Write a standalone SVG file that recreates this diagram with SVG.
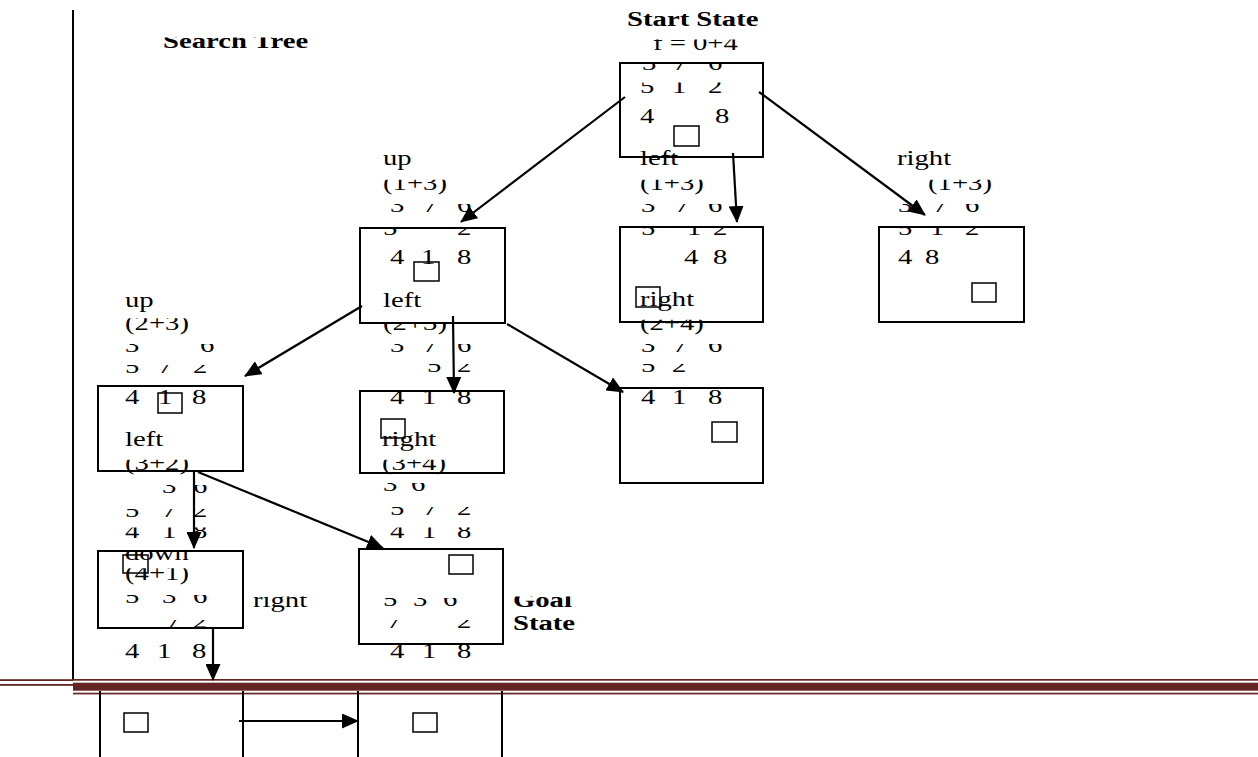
<svg xmlns="http://www.w3.org/2000/svg" width="1258" height="757" viewBox="0 0 1258 757">
<style>
text{font-family:"Liberation Serif","Times New Roman",serif;font-size:20.5px;fill:#000}
.b{font-weight:bold}
.box{fill:none;stroke:#000;stroke-width:2}
.sq{fill:none;stroke:#000;stroke-width:1.5}
.arr{stroke:#000;stroke-width:2.2;fill:none;marker-end:url(#ah)}
.ca{clip-path:url(#cA)}
.cb{clip-path:url(#cB)}
.cc{clip-path:url(#cC)}
.bar{fill:#632523}
.vl{stroke:#000;stroke-width:2}
</style>
<defs>
<clipPath id="cA" clipPathUnits="objectBoundingBox"><rect x="-0.1" y="0.45" width="1.2" height="1"/></clipPath>
<clipPath id="cB" clipPathUnits="objectBoundingBox"><rect x="-0.1" y="0.34" width="1.2" height="1"/></clipPath>
<clipPath id="cC" clipPathUnits="objectBoundingBox"><rect x="-0.1" y="0.27" width="1.2" height="1"/></clipPath>
<marker id="ah" markerUnits="userSpaceOnUse" markerWidth="17" markerHeight="15" refX="16" refY="7.5" orient="auto" viewBox="0 0 17 15"><path d="M0,0 L17,7.5 L0,15 Z" fill="#000"/></marker>
</defs>
<rect width="1258" height="757" fill="#fff"/>

<g id="page">
<line class="vl" x1="73" y1="10" x2="73" y2="680"/>
<rect class="bar" x="0" y="679.2" width="73" height="1.8"/>
<rect class="bar" x="0" y="684" width="73" height="1.8"/>
<rect class="bar" x="73" y="679" width="1185" height="1.7"/>
<rect class="bar" x="73" y="682.7" width="1185" height="8"/>
<rect class="bar" x="73" y="692.7" width="1185" height="1.7"/>
</g>

<g id="title"><g transform="scale(1.4 1)">
<text class="b cb" x="116.4" y="48">Search Tree</text>
</g></g>

<g id="n-start">
<rect class="box" x="620" y="63" width="143" height="94"/>
<rect class="sq" x="674" y="126" width="25" height="20"/>
<g transform="scale(1.4 1)">
<text class="b" x="447.9" y="26">Start State</text>
<text class="cb" x="466.4" y="50">f = 0+4</text>
<text class="ca" x="458.6 470 480.7 492 505.7" y="70">3 7 6</text>
<text class="cb" x="457.1 470 480 492 505.7" y="93">5 1 2</text>
<text x="457.1 480 510.7" y="123">4 8</text>
</g>
</g>

<g id="n-left">
<rect class="box" x="620" y="227" width="143" height="95"/>
<g transform="scale(1.4 1)">
<text x="457.1" y="165">left</text>
<text class="cb" x="457.1" y="190">(1+3)</text>
<text class="ca" x="457.9 470 482.1 495 505.7" y="212">3 7 6</text>
<text class="ca" x="457.9 475 490.7 500 509.3" y="235">5 1 2</text>
<text x="488.6 500 509.3" y="264">4 8</text>
</g>
</g>

<g id="n-right">
<rect class="box" x="879" y="227" width="145" height="95"/>
<rect class="sq" x="972" y="283" width="24" height="19"/>
<g transform="scale(1.4 1)">
<text x="640.7" y="165">right</text>
<text class="cb" x="662.9" y="190">(1+3)</text>
<text class="ca" x="641.4 655 666.4 678 689.3" y="212">3 7 6</text>
<text class="ca" x="641.4 655 664.3 678 689.3" y="235">5 1 2</text>
<text x="641.4 652 660.7" y="264">4 8</text>
</g>
</g>

<g id="n-up">
<rect class="box" x="360" y="228" width="145" height="95"/>
<rect class="sq" x="414" y="262" width="25" height="19"/>
<g transform="scale(1.4 1)">
<text x="273.6" y="165">up</text>
<text class="cb" x="273.6" y="190">(1+3)</text>
<text class="ca" x="278.6 290 302.1 314 326.4" y="212">3 7 6</text>
<text class="ca" x="273.6 300 326.4" y="235">5 2</text>
<text x="278.6 290 300.7 314 326.4" y="264">4 1 8</text>
</g>
</g>

<g id="n-up-up">
<rect class="box" x="98" y="386" width="145" height="85"/>
<rect class="sq" x="158" y="393" width="24" height="20"/>
<g transform="scale(1.4 1)">
<text x="89.3" y="307">up</text>
<text class="cc" x="89.3" y="330">(2+3)</text>
<text class="ca" x="89.3 115 142.9" y="352">3 6</text>
<text class="ca" x="89.3 101 112.9 125 137.9" y="373">5 7 2</text>
<text x="89.3 101 112.9 125 137.1" y="404">4 1 8</text>
</g>
</g>

<g id="n-up-left">
<rect class="box" x="360" y="391" width="144" height="82"/>
<rect class="sq" x="381" y="419" width="24" height="19"/>
<g transform="scale(1.4 1)">
<text x="273.6" y="307">left</text>
<text class="ca" x="273.6" y="330">(2+3)</text>
<text class="ca" x="278.6 290 302.1 314 326.4" y="352">3 7 6</text>
<text class="ca" x="305 315 326.4" y="372">5 2</text>
<text class="cc" x="278.6 290 301.4 314 326.4" y="404">4 1 8</text>
</g>
</g>

<g id="n-up-right">
<rect class="box" x="620" y="388" width="143" height="95"/>
<rect class="sq" x="712" y="422" width="25" height="20"/>
<rect class="sq" x="636" y="287" width="24" height="20"/>
<g transform="scale(1.4 1)">
<text x="457.1" y="306">right</text>
<text class="cb" x="457.1" y="330">(2+4)</text>
<text class="ca" x="457.9 470 480.7 492 505.7" y="352">3 7 6</text>
<text class="ca" x="457.9 470 480" y="372">5 2</text>
<text x="457.9 470 480 492 505.7" y="404">4 1 8</text>
</g>
</g>

<g id="n-down">
<rect class="box" x="98" y="551" width="145" height="77"/>
<rect class="sq" x="123" y="555" width="25" height="18"/>
<g transform="scale(1.4 1)">
<text x="89.3" y="446">left</text>
<text class="cb" x="89.3" y="470">(3+2)</text>
<text class="ca" x="115.7 127 137.9" y="493">3 6</text>
<text class="ca" x="89.3 101 115.7 127 137.9" y="517">5 7 2</text>
<text class="cb" x="89.3 101 115.7 127 137.9" y="538">4 1 8</text>
<text class="ca" x="89.3" y="560">down</text>
<text class="cc" x="89.3" y="580">(4+1)</text>
<text class="ca" x="89.3 101 115.7 127 137.9" y="603">5 3 6</text>
<text class="ca" x="118.6 128 137.9" y="628">7 2</text>
<text x="89.3 101 112.1 125 137.1" y="658">4 1 8</text>
</g>
</g>

<g id="n-goal">
<rect class="box" x="359" y="549" width="144" height="95"/>
<rect class="sq" x="449" y="555" width="24" height="19"/>
<g transform="scale(1.4 1)">
<text x="272.9" y="446">right</text>
<text class="cb" x="272.9" y="470">(3+4)</text>
<text class="ca" x="273.6 284 293.6" y="491">3 6</text>
<text class="ca" x="278.6 290 302.1 314 326.4" y="515">5 7 2</text>
<text class="cb" x="278.6 290 301.4 314 326.4" y="538">4 1 8</text>
<text class="ca" x="273.6 284 295 306 316.4" y="606">5 3 6</text>
<text class="ca" x="276.4 300 326.4" y="628">7 2</text>
<text x="278.6 290 301.4 314 326.4" y="658">4 1 8</text>
<text class="b cb" x="366.4" y="607">Goal</text>
<text class="b" x="366.4" y="630">State</text>
</g>
</g>

<g id="n-bottom-1">
<line class="vl" x1="100" y1="691" x2="100" y2="757"/>
<line class="vl" x1="243" y1="691" x2="243" y2="757"/>
<rect class="sq" x="124" y="713" width="24" height="19"/>
<g transform="scale(1.4 1)">
<text class="cb" x="180.7" y="607">right</text>
</g>
</g>

<g id="n-bottom-2">
<line class="vl" x1="358" y1="691" x2="358" y2="757"/>
<line class="vl" x1="502" y1="691" x2="502" y2="757"/>
<rect class="sq" x="413" y="713" width="24" height="19"/>
</g>

<g id="connectors">
<line class="arr" x1="625" y1="97" x2="461" y2="222"/>
<line class="arr" x1="733" y1="153" x2="737" y2="222"/>
<line class="arr" x1="759" y1="92" x2="925" y2="215"/>
<line class="arr" x1="362" y1="306" x2="245" y2="376"/>
<line class="arr" x1="453" y1="316" x2="454" y2="393"/>
<line class="arr" x1="507" y1="324" x2="623" y2="392"/>
<line class="arr" x1="194" y1="471" x2="194" y2="548"/>
<line class="arr" x1="198" y1="472" x2="383" y2="548"/>
<line class="arr" x1="213" y1="628" x2="213" y2="680"/>
<line class="arr" x1="239" y1="721" x2="358" y2="721"/>
</g>
</svg>
